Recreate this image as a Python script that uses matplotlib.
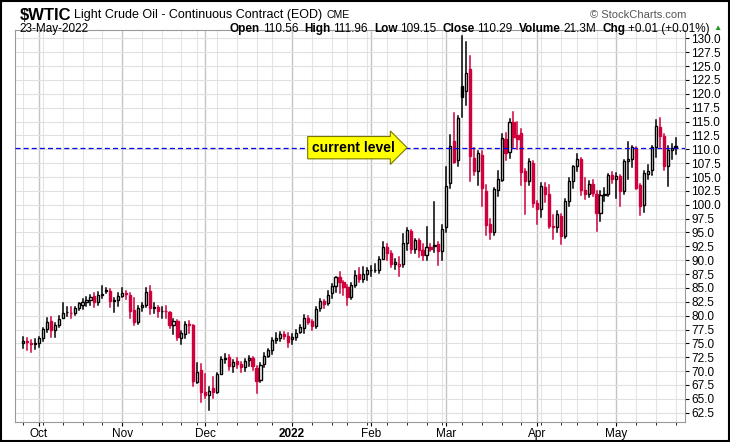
import numpy as np
import pandas as pd
import matplotlib
matplotlib.use("Agg")
import matplotlib.pyplot as plt
from matplotlib.patches import Rectangle

plt.rcParams["font.family"] = ["Liberation Sans", "DejaVu Sans"]

# trading days, 27-Sep-2021 .. 23-May-2022 (US holidays removed)
holidays = ["2021-11-25", "2021-12-24", "2022-01-17", "2022-02-21", "2022-04-15"]
days = pd.bdate_range("2021-09-27", "2022-05-23")
days = days[~days.isin(pd.to_datetime(holidays))]

# O, H, L, C
opens = [75.0, 75.5, 75.0, 74.8,
         75.0, 75.9, 77.6, 79.0, 77.4, 78.4, 79.6, 80.6, 80.5, 80.5, 81.3, 82.0, 82.5, 82.9, 83.6, 82.5, 83.8, 84.4, 84.5, 82.6, 82.8,
         83.6, 84.0, 83.8, 81.0, 78.8, 81.5, 82.0, 84.5, 81.4, 81.5, 80.8, 80.9, 80.6, 78.4, 79.0, 76.0, 76.6, 78.5, 78.3, 68.0, 70.2,
         66.3, 65.6, 67.0, 66.3, 69.5, 72.1, 72.5, 70.9, 71.9, 71.3, 70.7, 72.0, 72.4, 70.5, 68.4, 71.3, 72.8, 73.8, 75.6, 75.9, 76.6, 76.4,
         75.7, 76.1, 77.0, 77.8, 79.5, 79.0, 78.2, 81.3, 82.6, 82.2, 84.0, 85.4, 87.0, 86.0, 85.1, 83.3, 85.6, 87.5, 86.6, 87.5,
         88.2, 88.2, 88.3, 90.3, 92.3, 91.3, 89.4, 89.0, 89.3, 93.1, 95.2, 92.0, 93.7, 91.8, 91.0, 92.3, 92.5, 92.9, 91.6,
         96.0, 104.0, 111.5, 108.0, 121.4, 120.5, 124.5, 108.5, 106.0, 109.0, 102.5, 96.5, 95.0, 102.7, 104.5, 111.9, 109.5, 115.0, 112.5, 113.0, 106.0, 104.2, 107.5,
         100.3, 99.3, 103.2, 102.0, 96.2, 96.0, 98.0, 94.3, 100.6, 104.3, 106.9, 108.2, 102.6, 102.0, 103.8, 102.0, 98.5, 101.7, 102.0, 105.4,
         104.7, 105.2, 102.4, 107.8, 108.3, 110.2, 103.5, 100.0, 105.6, 106.2, 110.4, 114.0, 112.4, 107.0, 109.9, 110.56]
highs = [76.2, 76.0, 75.6, 75.8,
         76.2, 77.8, 79.5, 79.8, 78.6, 80.0, 82.2, 81.5, 81.6, 81.6, 82.3, 83.0, 83.3, 83.8, 84.0, 84.3, 85.4, 85.0, 84.8, 83.2, 84.0,
         84.9, 84.5, 84.0, 83.2, 81.8, 82.3, 84.9, 85.4, 82.3, 81.8, 81.5, 81.7, 80.7, 79.4, 79.2, 77.2, 78.8, 79.0, 78.4, 71.4, 71.2,
         69.4, 67.2, 69.0, 69.7, 72.5, 73.0, 72.9, 72.0, 72.4, 71.6, 72.2, 72.8, 72.6, 70.9, 71.4, 73.2, 73.9, 76.0, 76.8, 77.0, 77.0, 76.9,
         76.7, 77.5, 78.3, 80.2, 80.0, 79.3, 81.5, 83.0, 82.9, 84.4, 85.7, 87.0, 87.9, 86.3, 85.5, 85.9, 88.0, 88.6, 88.7, 88.6,
         88.9, 89.4, 90.5, 93.2, 93.0, 91.7, 90.3, 90.6, 94.7, 95.8, 95.5, 93.9, 93.8, 92.9, 96.0, 93.0, 100.5, 93.2, 96.3,
         106.8, 112.5, 116.6, 116.0, 130.5, 129.4, 126.8, 110.3, 109.7, 109.7, 103.5, 97.5, 103.0, 106.0, 112.8, 112.9, 115.4, 116.7, 114.9, 113.7, 106.5, 108.3, 107.8,
         100.6, 104.0, 104.0, 103.6, 98.2, 98.8, 98.3, 101.0, 104.8, 107.0, 109.2, 108.4, 104.8, 104.3, 104.5, 102.5, 102.5, 103.0, 105.6, 105.9,
         105.7, 105.4, 108.0, 111.4, 110.6, 110.5, 103.7, 106.0, 107.2, 110.6, 115.2, 115.7, 112.8, 110.6, 111.0, 111.96]
lows = [74.2, 73.8, 73.5, 74.0,
        74.3, 75.4, 77.0, 76.2, 76.1, 78.0, 79.5, 80.0, 79.5, 80.2, 81.0, 81.2, 81.8, 82.0, 81.5, 82.0, 83.2, 84.0, 81.6, 80.6, 81.8,
        83.3, 83.0, 79.6, 78.3, 78.5, 80.8, 81.6, 80.3, 80.5, 79.8, 79.6, 79.5, 77.8, 76.6, 75.6, 74.9, 75.9, 76.9, 67.4, 67.8, 64.4,
        65.1, 62.9, 65.2, 66.0, 69.4, 71.5, 70.2, 69.9, 70.5, 69.9, 70.0, 71.0, 70.2, 66.1, 68.0, 70.8, 72.5, 73.1, 75.0, 75.5, 75.8, 74.3,
        74.9, 75.6, 76.8, 76.8, 78.5, 77.4, 77.8, 80.9, 81.4, 82.0, 83.2, 84.2, 84.0, 83.8, 81.9, 83.0, 85.2, 86.0, 86.1, 86.5,
        87.2, 87.9, 87.6, 90.2, 90.0, 88.8, 88.5, 87.2, 88.8, 91.8, 91.3, 91.3, 90.6, 90.0, 90.1, 91.6, 91.4, 89.2, 90.1,
        95.1, 103.0, 107.5, 107.0, 115.8, 118.0, 104.3, 105.3, 103.6, 99.8, 94.5, 93.8, 94.5, 101.6, 104.2, 108.0, 108.5, 110.5, 110.0, 103.5, 98.4, 103.6, 99.6,
        96.6, 97.7, 100.5, 95.8, 93.8, 95.0, 93.0, 94.0, 99.7, 103.0, 106.0, 101.8, 101.0, 101.4, 101.6, 95.3, 97.0, 100.6, 101.5, 103.9,
        101.3, 99.8, 102.0, 104.7, 106.8, 102.9, 98.2, 98.7, 104.6, 105.4, 108.6, 110.5, 106.2, 103.4, 108.3, 109.15]
closes = [75.4, 75.3, 74.8, 75.0,
          75.9, 77.6, 78.9, 77.4, 78.3, 79.4, 80.5, 80.6, 80.4, 81.3, 82.2, 82.4, 82.9, 83.4, 82.5, 83.8, 83.8, 84.6, 82.7, 82.8, 83.6,
          84.1, 83.9, 80.9, 78.8, 81.3, 81.9, 84.2, 81.3, 81.6, 80.8, 80.9, 80.8, 78.4, 79.0, 76.1, 76.8, 78.5, 78.4, 68.2, 69.9, 66.2,
          65.6, 66.5, 66.3, 69.5, 72.1, 72.4, 70.9, 71.7, 71.3, 70.7, 71.9, 72.4, 70.9, 68.2, 71.1, 72.8, 73.8, 75.6, 75.9, 76.6, 76.4, 75.2,
          76.1, 76.9, 77.9, 79.5, 78.9, 78.2, 81.2, 82.6, 82.1, 83.8, 85.4, 86.9, 86.0, 85.1, 83.3, 85.6, 87.3, 86.6, 87.5, 88.2,
          88.2, 88.3, 90.3, 92.3, 91.3, 89.4, 89.7, 89.3, 93.1, 95.5, 92.1, 93.7, 91.8, 91.0, 92.4, 92.1, 92.8, 91.6, 95.7,
          103.4, 110.6, 107.7, 115.7, 119.4, 123.7, 108.7, 106.0, 109.3, 103.0, 96.4, 95.0, 102.9, 104.7, 112.1, 109.3, 114.9, 112.3, 111.9, 105.9, 104.2, 107.8, 100.3,
          99.3, 103.3, 102.0, 96.2, 96.0, 98.3, 94.3, 100.6, 104.3, 106.9, 108.2, 102.6, 102.0, 103.8, 102.1, 98.5, 101.7, 102.0, 105.4, 104.7,
          105.2, 102.4, 107.8, 108.3, 110.5, 103.1, 99.8, 105.7, 106.1, 110.5, 114.2, 112.4, 107.0, 109.9, 110.28, 110.29]

current = 110.29
months = ["Oct", "Nov", "Dec", "2022", "Feb", "Mar", "Apr", "May"]

RED = "#d0003c"
fig = plt.figure(figsize=(7.3, 4.42), dpi=100)
ax = fig.add_axes([0.021, 0.045, 0.918, 0.887])
n = len(days)
x = np.arange(n)
w = 0.55
for i in x:
    o, h, l, c = opens[i], highs[i], lows[i], closes[i]
    col = RED if i > 0 and c < closes[i - 1] else "black"
    ax.plot([i, i], [l, h], color=col, lw=1.1, zorder=3)
    lo, hi = min(o, c), max(o, c)
    filled = c < o
    ax.add_patch(Rectangle((i - w / 2, lo), w, max(hi - lo, 0.08),
                           facecolor=col if filled else "white", edgecolor=col, lw=1.0, zorder=4))

ax.axhline(current, color="#0000ee", ls=(0, (4, 2.5)), lw=0.9, zorder=5)
ax.annotate("current level", xy=(x[100], current), xytext=(x[73], current),
            ha="left", va="center", fontsize=10, fontweight="bold", zorder=6,
            bbox=dict(boxstyle="rarrow,pad=0.3", fc="#ffff00", ec="#777700", lw=0.8))

ax.set_xlim(-2, n + 1.5)
ax.set_ylim(60.8, 131.5)
ax.yaxis.tick_right()
ax.set_yticks(np.arange(62.5, 130.1, 2.5))
ax.set_yticklabels([f"{v:.1f}" for v in np.arange(62.5, 130.1, 2.5)], fontsize=8.5)
ax.tick_params(axis="y", length=3, pad=1)

dser = pd.Series(days)
month_idx = [int(np.argmax((dser.dt.month == m).values & (dser.dt.day <= 7).values))
             for m in [10, 11, 12, 1, 2, 3, 4, 5]]
week_idx = [i for i in range(n) if i == 0 or days[i].weekday() < days[i - 1].weekday()]
ax.set_xticks(week_idx, minor=True)
ax.set_xticks(month_idx)
ax.set_xticklabels(months, fontsize=8.5)
for lab in ax.get_xticklabels():
    if lab.get_text() == "2022":
        lab.set_fontweight("bold")
ax.tick_params(axis="x", length=3, pad=1)
ax.tick_params(axis="x", which="minor", length=2)
ax.grid(axis="y", color="#e0e0e0", lw=0.8)
ax.grid(axis="x", which="minor", color="#e4e4e4", lw=0.8)
ax.grid(axis="x", which="major", color="#c4c4c4", lw=1.0)
ax.set_axisbelow(True)
for s in ax.spines.values():
    s.set_color("#999999")

r = fig.canvas.get_renderer()
t = fig.text(0.027, 0.966, "$WTIC", fontsize=12, fontweight="bold", va="center")
xp = t.get_window_extent(r).x1 / 730 + 0.004
t = fig.text(xp, 0.966, "Light Crude Oil - Continuous Contract (EOD)", fontsize=9, va="center")
xp = t.get_window_extent(r).x1 / 730 + 0.006
fig.text(xp, 0.966, "CME", fontsize=7.5, va="center")
fig.text(0.94, 0.966, "© StockCharts.com", fontsize=8, va="center", ha="right", color="#555555")
fig.text(0.027, 0.935, "23-May-2022", fontsize=8.5, va="center")
hdr = [("Open", "110.56"), ("High", "111.96"), ("Low", "109.15"), ("Close", "110.29"),
       ("Volume", "21.3M"), ("Chg", "+0.01 (+0.01%)")]
xpos = 0.315
for k, v in hdr:
    t = fig.text(xpos, 0.935, k, fontsize=8.5, fontweight="bold", va="center")
    xpos = t.get_window_extent(r).x1 / 730 + 0.004
    t = fig.text(xpos, 0.935, v, fontsize=8.5, va="center")
    xpos = t.get_window_extent(r).x1 / 730 + 0.008
fig.text(xpos - 0.003, 0.935, "▲", fontsize=6, va="center", color="#1a9a1a")
fig.patches.append(Rectangle((0.001, 0.002), 0.997, 0.996, transform=fig.transFigure,
                             fill=False, ec="black", lw=1.5))
fig.savefig("out.png", dpi=100)
